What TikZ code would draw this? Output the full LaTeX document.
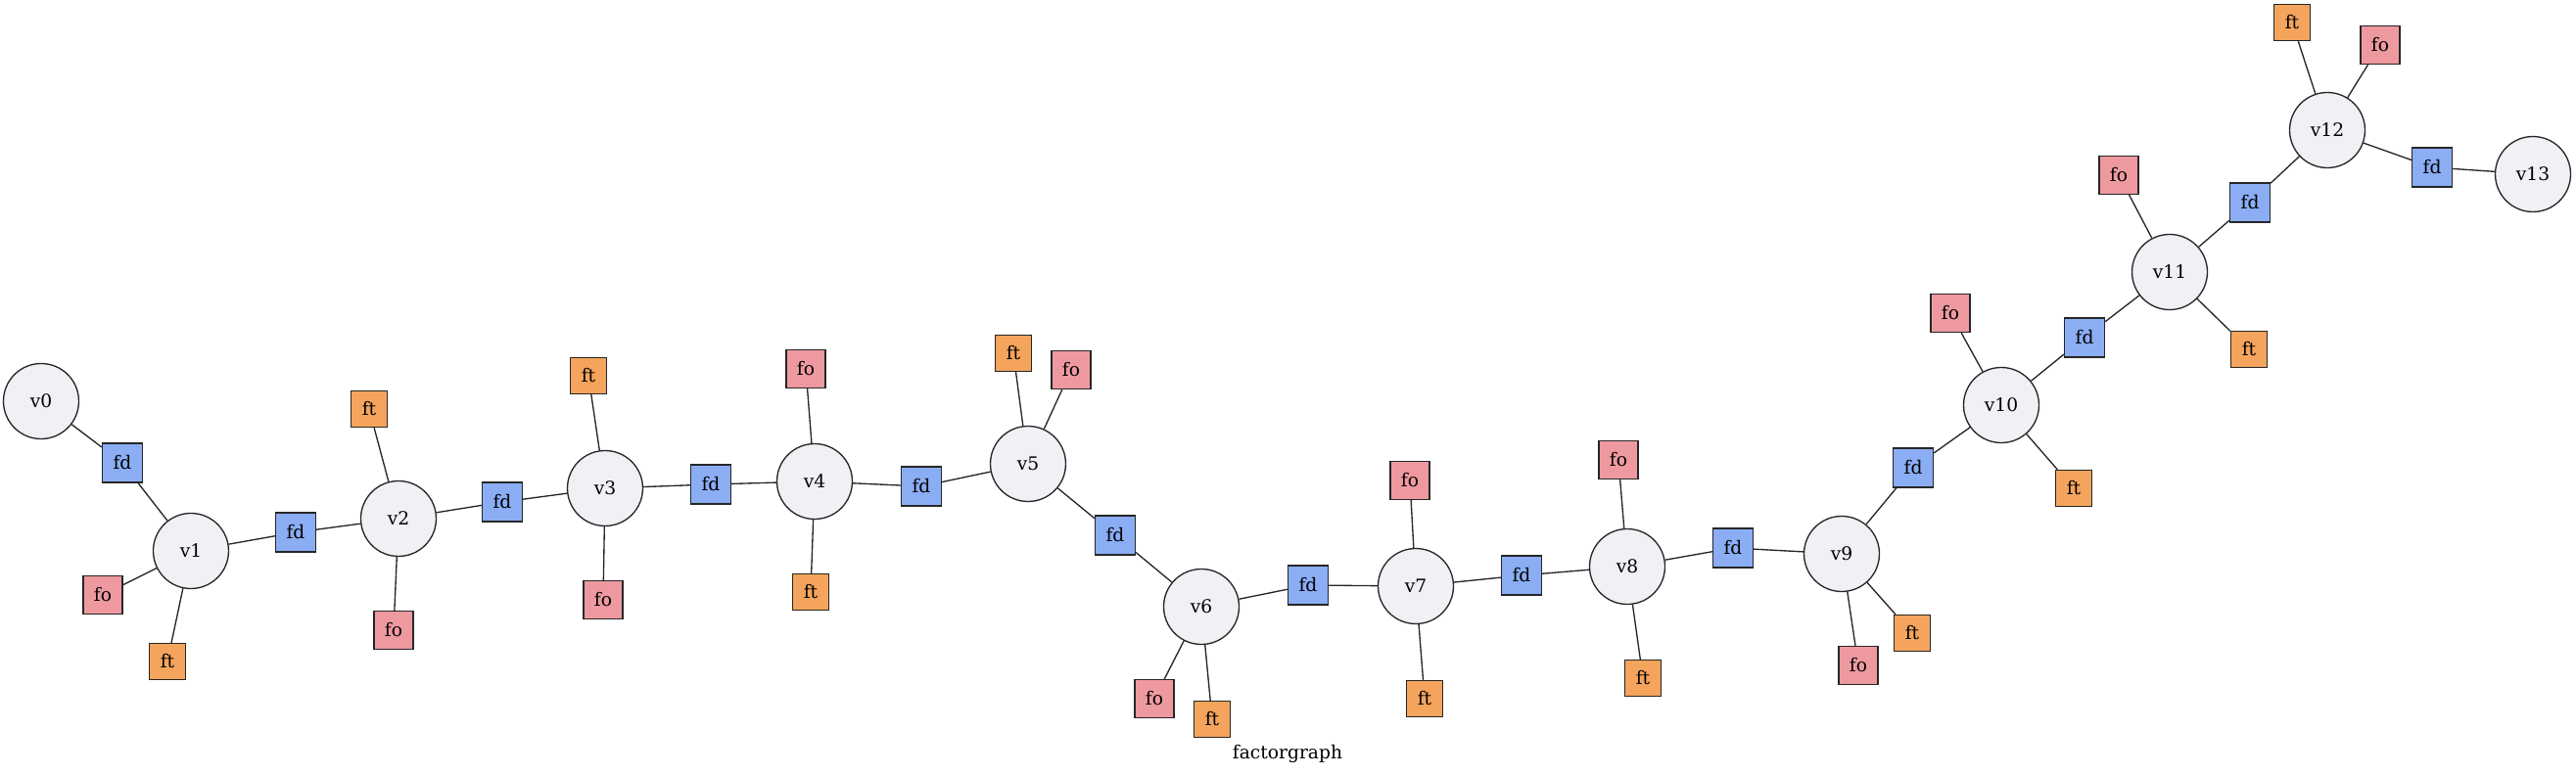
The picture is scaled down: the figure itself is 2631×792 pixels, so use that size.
\documentclass[tikz,border=0pt]{standalone}
\usepackage{fontspec}
\setmainfont{DejaVu Serif}
\definecolor{vfill}{HTML}{EFF1F5}
\definecolor{fdfill}{HTML}{8AADF4}
\definecolor{fofill}{HTML}{EE99A0}
\definecolor{ftfill}{HTML}{F4A45C}
\definecolor{edgecol}{HTML}{262626}
\tikzset{
  x=0.75pt, y=-0.75pt,
  every node/.style={font=\fontsize{14pt}{16pt}\selectfont, inner sep=0pt},
  var/.style={circle, draw=edgecol, line width=1pt, fill=vfill, minimum size=57.75pt},
  fdbox/.style={rectangle, draw=edgecol, line width=1pt, fill=fdfill, minimum width=30.75pt, minimum height=30pt},
  fobox/.style={rectangle, draw=edgecol, line width=1pt, fill=fofill, minimum width=30pt, minimum height=29.25pt},
  ftbox/.style={rectangle, draw=edgecol, line width=1pt, fill=ftfill, minimum width=27.75pt, minimum height=27.75pt},
  link/.style={draw=edgecol, line width=1pt}
}
\begin{document}
\begin{tikzpicture}
\useasboundingbox (0,0) rectangle (2631,792);
% variable nodes
\node[var] (v0) at (42,410) {v0};
\node[var] (v1) at (195,563) {v1};
\node[var] (v2) at (407,530) {v2};
\node[var] (v3) at (618,499) {v3};
\node[var] (v4) at (832,492) {v4};
\node[var] (v5) at (1050,474) {v5};
\node[var] (v6) at (1227,620) {v6};
\node[var] (v7) at (1446,599) {v7};
\node[var] (v8) at (1662,579) {v8};
\node[var] (v9) at (1881,566) {v9};
\node[var] (v10) at (2044,414) {v10};
\node[var] (v11) at (2216,278) {v11};
\node[var] (v12) at (2377,133) {v12};
\node[var] (v13) at (2587,178) {v13};
% fd factors
\node[fdbox] (fd01) at (125,473) {fd};
\node[fdbox] (fd12) at (302,544) {fd};
\node[fdbox] (fd23) at (513,513) {fd};
\node[fdbox] (fd34) at (726,495) {fd};
\node[fdbox] (fd45) at (941,497) {fd};
\node[fdbox] (fd56) at (1139,547) {fd};
\node[fdbox] (fd67) at (1336,598) {fd};
\node[fdbox] (fd78) at (1554,588) {fd};
\node[fdbox] (fd89) at (1770,560) {fd};
\node[fdbox] (fd910) at (1954,478) {fd};
\node[fdbox] (fd1011) at (2129,345) {fd};
\node[fdbox] (fd1112) at (2298,207) {fd};
\node[fdbox] (fd1213) at (2484,171) {fd};
% fo factors
\node[fobox] (fo1) at (105,608) {fo};
\node[fobox] (fo2) at (402,644) {fo};
\node[fobox] (fo3) at (616,613) {fo};
\node[fobox] (fo4) at (823,377) {fo};
\node[fobox] (fo5) at (1094,378) {fo};
\node[fobox] (fo6) at (1179,714) {fo};
\node[fobox] (fo7) at (1440,491) {fo};
\node[fobox] (fo8) at (1653,470) {fo};
\node[fobox] (fo9) at (1898,680) {fo};
\node[fobox] (fo10) at (1992,320) {fo};
\node[fobox] (fo11) at (2164,179) {fo};
\node[fobox] (fo12) at (2431,46) {fo};
% ft factors
\node[ftbox] (ft1) at (171,676) {ft};
\node[ftbox] (ft2) at (377,418) {ft};
\node[ftbox] (ft3) at (601,384) {ft};
\node[ftbox] (ft4) at (828,605) {ft};
\node[ftbox] (ft5) at (1035,361) {ft};
\node[ftbox] (ft6) at (1238,735) {ft};
\node[ftbox] (ft7) at (1455,714) {ft};
\node[ftbox] (ft8) at (1678,693) {ft};
\node[ftbox] (ft9) at (1953,647) {ft};
\node[ftbox] (ft10) at (2118,499) {ft};
\node[ftbox] (ft11) at (2297,357) {ft};
\node[ftbox] (ft12) at (2341,23) {ft};
% title
\node (title) at (1315,770) {factorgraph};
% chain edges
\draw[link] (v0) -- (fd01) -- (v1);
\draw[link] (v1) -- (fd12) -- (v2);
\draw[link] (v2) -- (fd23) -- (v3);
\draw[link] (v3) -- (fd34) -- (v4);
\draw[link] (v4) -- (fd45) -- (v5);
\draw[link] (v5) -- (fd56) -- (v6);
\draw[link] (v6) -- (fd67) -- (v7);
\draw[link] (v7) -- (fd78) -- (v8);
\draw[link] (v8) -- (fd89) -- (v9);
\draw[link] (v9) -- (fd910) -- (v10);
\draw[link] (v10) -- (fd1011) -- (v11);
\draw[link] (v11) -- (fd1112) -- (v12);
\draw[link] (v12) -- (fd1213) -- (v13);
% unary factors
\foreach \i in {1,...,12} {
  \draw[link] (v\i) -- (fo\i);
  \draw[link] (v\i) -- (ft\i);
}
\end{tikzpicture}
\end{document}
